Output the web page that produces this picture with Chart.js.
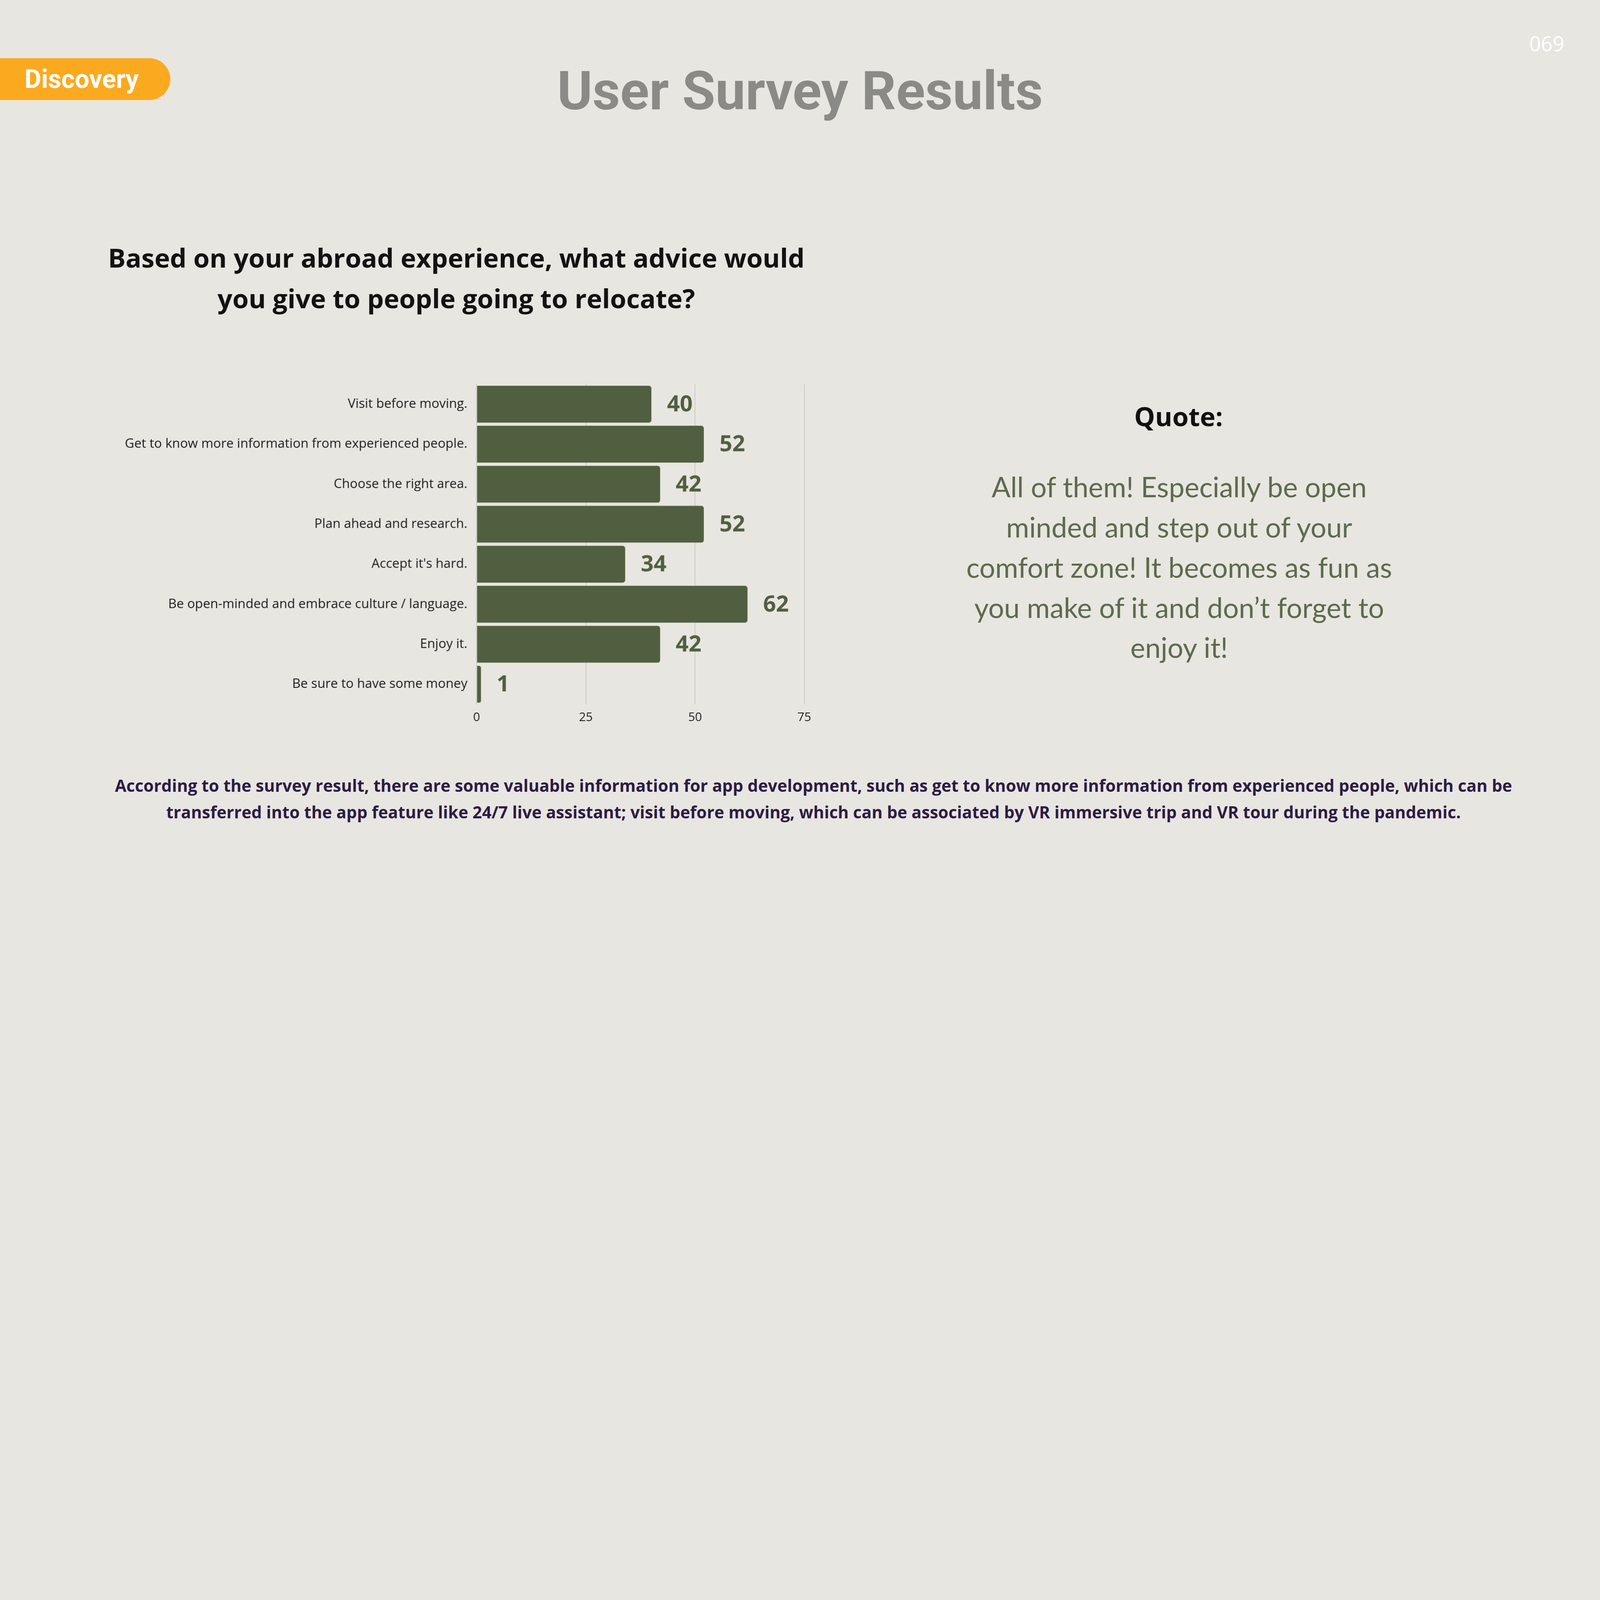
<!DOCTYPE html>
<html>
<head>
<meta charset="utf-8">
<script src="https://cdn.jsdelivr.net/npm/chart.js@4"></script>
<style>
  :root { --u: calc(100vw / 1568); }
  html, body { margin: 0; padding: 0; }
  body { width: 100vw; height: calc(var(--u) * 882); background: #e8e6e1; position: relative; overflow: hidden; font-family: "Open Sans", sans-serif; }
  .badge { position: absolute; left: 0; top: calc(var(--u) * 57); width: calc(var(--u) * 167); height: calc(var(--u) * 41); background: #fbaa1f; border-radius: 0 calc(var(--u) * 20.5) calc(var(--u) * 20.5) 0; color: #fff; font-family: Roboto, sans-serif; font-weight: 700; font-size: calc(var(--u) * 25.3); line-height: calc(var(--u) * 41); padding-left: calc(var(--u) * 24); box-sizing: border-box; }
  .page { position: absolute; right: calc(var(--u) * 35); top: calc(var(--u) * 28.6); color: #fff; font-size: calc(var(--u) * 20); }
  .title { position: absolute; left: 0; width: 100%; top: calc(var(--u) * 58); text-align: center; font-family: Roboto, sans-serif; font-weight: 700; font-size: calc(var(--u) * 52.7); color: #8a8a86; }
  .question { position: absolute; left: calc(var(--u) * 38.8); width: calc(var(--u) * 816.7); top: calc(var(--u) * 232.8); text-align: center; font-weight: 700; font-size: calc(var(--u) * 25.7); line-height: calc(var(--u) * 39.8); color: #121212; }
  .quote-h { position: absolute; left: calc(var(--u) * 951); width: calc(var(--u) * 408); top: calc(var(--u) * 390); text-align: center; font-weight: 700; font-size: calc(var(--u) * 25.7); color: #111; }
  .quote { position: absolute; left: calc(var(--u) * 910.6); width: calc(var(--u) * 490); top: calc(var(--u) * 457); text-align: center; font-family: Lato, sans-serif; font-size: calc(var(--u) * 27.4); line-height: calc(var(--u) * 39.4); color: #5d6b4d; }
  .note { position: absolute; left: 0; width: calc(var(--u) * 1594.5); top: calc(var(--u) * 756.4); text-align: center; font-weight: 700; font-size: calc(var(--u) * 16.3); line-height: calc(var(--u) * 26.1); color: #2d1c45; white-space: nowrap; }
  #wrap { position: absolute; left: calc(var(--u) * 110); top: calc(var(--u) * 360); width: calc(var(--u) * 720); height: calc(var(--u) * 355); }
</style>
</head>
<body>
<div class="badge">Discovery</div>
<div class="page">069</div>
<div class="title">User Survey Results</div>
<div class="question">Based on your abroad experience, what advice would<br>you give to people going to relocate?</div>
<div id="wrap"><canvas id="chart"></canvas></div>
<div class="quote-h">Quote:</div>
<div class="quote">All of them! Especially be open<br>minded and step out of your<br>comfort zone! It becomes as fun as<br>you make of it and don’t forget to<br>enjoy it!</div>
<div class="note">According to the survey result, there are some valuable information for app development, such as get to know more information from experienced people, which can be<br>transferred into the app feature like 24/7 live assistant; visit before moving, which can be associated by VR immersive trip and VR tour during the pandemic.</div>
<script>
const categories = [
  'Visit before moving.',
  'Get to know more information from experienced people.',
  'Choose the right area.',
  'Plan ahead and research.',
  "Accept it's hard.",
  'Be open-minded and embrace culture / language.',
  'Enjoy it.',
  'Be sure to have some money'
];
const answers = [40, 52, 42, 52, 34, 62, 42, 1];
const xTicks = [0, 25, 50, 75];

const barGreen = '#505f3f';
// one design unit = 1/1568 of the page width
const u = window.innerWidth / 1568;

// value labels after each bar
const valueLabels = {
  id: 'valueLabels',
  afterDatasetsDraw(chart) {
    const ctx = chart.ctx;
    const meta = chart.getDatasetMeta(0);
    ctx.save();
    ctx.font = `700 ${22 * u}px "Open Sans"`;
    ctx.fillStyle = barGreen;
    ctx.textAlign = 'left';
    ctx.textBaseline = 'middle';
    meta.data.forEach((bar, i) => {
      ctx.fillText(String(answers[i]), bar.x + 15.3 * u, bar.y + 0.8 * u);
    });
    ctx.restore();
  }
};

new Chart(document.getElementById('chart'), {
  type: 'bar',
  data: {
    labels: categories,
    datasets: [{
      data: answers,
      backgroundColor: barGreen,
      borderRadius: 2.5 * u,
      borderSkipped: 'start',
      barPercentage: 0.92,
      categoryPercentage: 1
    }]
  },
  options: {
    indexAxis: 'y',
    responsive: true,
    maintainAspectRatio: false,
    animation: false,
    layout: { padding: { top: 8 * u, right: 42 * u, bottom: 0, left: 0 } },
    plugins: { legend: { display: false }, tooltip: { enabled: false } },
    scales: {
      x: {
        min: 0, max: 75,
        afterBuildTicks: (s) => { s.ticks = xTicks.map(v => ({ value: v })); },
        afterFit: (s) => { s.height = 25 * u; },
        border: { display: false },
        grid: { color: '#d2d0cb', lineWidth: Math.max(1, u), drawTicks: false },
        ticks: { color: '#222', font: { family: 'Open Sans', size: 11.8 * u }, padding: 6 * u }
      },
      y: {
        afterFit: (s) => { s.width = 357 * u; },
        border: { display: false },
        grid: { display: false, drawTicks: false },
        ticks: { color: '#1a1a1a', font: { family: 'Open Sans', size: 12.7 * u }, padding: 9 * u }
      }
    }
  },
  plugins: [valueLabels]
});
</script>
</body>
</html>
